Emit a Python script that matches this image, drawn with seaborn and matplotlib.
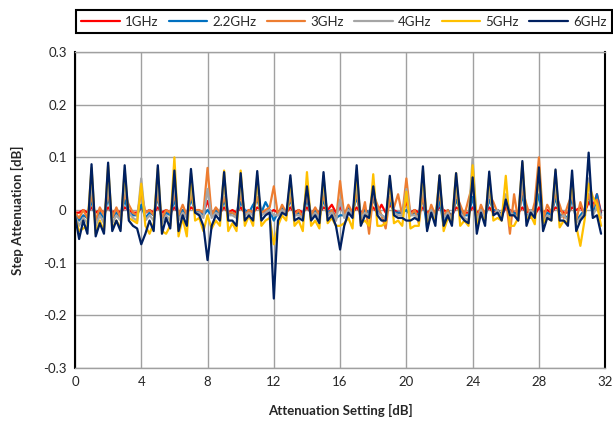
import numpy as np
import pandas as pd
import seaborn as sns
import matplotlib
matplotlib.use("Agg")
import matplotlib.pyplot as plt

# attenuation setting 0 .. 31.75 dB in 0.25 dB steps
setting = np.arange(128) * 0.25

# step attenuation error [dB], one row of 4 values per 1 dB
ghz1 = [
    -0.005, -0.005, 0.000, -0.005,  0.005, -0.005, 0.000, -0.005,
    0.005, -0.005, 0.000, -0.005,  0.005, 0.000, -0.005, -0.005,
    0.005, -0.005, 0.000, -0.005,  0.005, -0.005, 0.000, -0.005,
    0.005, -0.005, 0.000, -0.005,  0.005, 0.000, -0.005, -0.005,
    0.017, -0.005, 0.000, -0.005,  0.005, -0.005, 0.000, -0.005,
    0.005, -0.005, 0.000, -0.005,  0.005, 0.000, -0.005, -0.005,
    0.000, -0.005, 0.000, -0.005,  0.005, -0.005, 0.000, -0.005,
    0.005, -0.005, 0.000, -0.005,  0.005, 0.000, 0.010, -0.005,
    0.005, -0.005, 0.000, -0.005,  0.005, -0.005, 0.000, -0.005,
    0.005, -0.005, 0.010, -0.005,  0.010, 0.000, -0.005, -0.005,
    0.015, -0.005, 0.000, -0.005,  0.005, -0.005, 0.000, -0.005,
    0.005, 0.000, -0.005, -0.010,  0.005, 0.000, -0.005, -0.005,
    0.005, -0.005, 0.000, -0.005,  0.005, -0.005, 0.000, -0.010,
    0.005, 0.000, -0.005, -0.005,  0.005, -0.005, 0.000, -0.010,
    0.005, -0.005, 0.000, -0.005,  0.005, 0.000, -0.005, -0.005,
    0.005, 0.000, 0.005, -0.005,  0.015, 0.005, 0.030, -0.005,
]
ghz2_2 = [
    -0.005, -0.020, -0.010, -0.015,  0.020, -0.020, -0.005, -0.015,
    0.025, -0.015, -0.005, -0.015,  0.020, -0.005, -0.010, -0.010,
    0.010, -0.015, -0.005, -0.010,  0.025, -0.020, -0.005, -0.010,
    0.020, -0.015, 0.000, -0.010,  0.020, 0.000, -0.005, -0.010,
    0.000, -0.010, 0.000, -0.010,  0.020, -0.010, -0.005, -0.010,
    0.015, 0.000, -0.005, 0.010,  0.020, -0.005, 0.015, 0.000,
    -0.020, -0.005, 0.005, -0.005,  0.020, -0.010, -0.005, -0.010,
    0.020, -0.010, 0.000, -0.015,  0.020, -0.005, 0.000, -0.015,
    -0.010, -0.010, 0.005, -0.005,  0.025, -0.010, 0.000, -0.005,
    0.020, 0.000, -0.010, -0.015,  0.020, -0.005, -0.005, -0.005,
    0.000, -0.010, -0.005, -0.010,  0.025, -0.035, 0.000, -0.015,
    0.020, -0.030, 0.000, -0.015,  0.020, 0.000, -0.010, -0.010,
    0.025, -0.020, 0.005, -0.015,  0.020, 0.000, 0.000, -0.010,
    0.015, -0.005, -0.005, -0.010,  0.030, -0.015, 0.000, -0.005,
    0.030, -0.020, -0.005, -0.010,  0.025, -0.010, -0.010, -0.015,
    0.025, -0.020, -0.010, 0.000,  0.030, -0.010, 0.030, -0.010,
]
ghz3 = [
    -0.005, -0.015, 0.000, -0.015,  0.030, -0.020, 0.005, -0.010,
    0.035, -0.015, 0.005, -0.015,  0.030, 0.010, -0.005, -0.010,
    0.035, -0.005, 0.000, -0.010,  0.030, -0.015, 0.000, -0.005,
    0.030, -0.010, 0.010, -0.010,  0.030, 0.000, 0.000, -0.005,
    0.080, -0.010, 0.005, -0.005,  0.025, -0.005, -0.005, -0.010,
    0.030, -0.010, 0.000, -0.005,  0.025, -0.005, 0.000, 0.005,
    0.045, -0.010, 0.010, -0.005,  0.025, -0.010, 0.000, -0.015,
    0.030, -0.010, 0.005, -0.010,  0.030, -0.010, 0.000, -0.020,
    0.055, -0.010, 0.010, -0.005,  0.035, -0.020, 0.015, -0.045,
    0.030, 0.010, -0.010, -0.035,  0.025, 0.005, 0.030, -0.010,
    0.060, -0.010, 0.000, -0.025,  0.030, -0.020, 0.010, -0.010,
    0.030, -0.010, 0.000, -0.020,  0.030, 0.010, -0.010, 0.020,
    0.050, -0.020, 0.010, -0.010,  0.030, 0.015, -0.005, -0.010,
    0.025, -0.045, 0.030, -0.020,  0.040, 0.010, -0.015, 0.015,
    0.100, -0.020, 0.010, -0.005,  0.030, 0.010, -0.015, 0.010,
    0.030, -0.020, 0.015, -0.010,  0.030, 0.005, 0.020, -0.015,
]
ghz4 = [
    -0.010, -0.030, -0.015, -0.025,  0.050, -0.030, -0.010, -0.025,
    0.055, -0.025, -0.010, -0.020,  0.050, -0.005, -0.015, -0.020,
    0.060, -0.020, -0.010, -0.020,  0.050, -0.025, -0.010, -0.020,
    0.050, -0.020, -0.005, -0.015,  0.045, -0.005, -0.005, -0.015,
    0.040, -0.015, -0.005, -0.010,  0.045, -0.010, -0.010, -0.015,
    0.045, -0.010, -0.005, -0.010,  0.045, -0.010, -0.005, 0.000,
    -0.010, -0.010, 0.000, -0.005,  0.040, -0.010, -0.010, -0.015,
    0.045, -0.015, -0.005, -0.015,  0.045, -0.010, -0.005, -0.020,
    0.020, -0.015, 0.000, -0.010,  0.050, -0.015, -0.005, -0.010,
    0.040, -0.005, -0.010, -0.015,  0.045, -0.005, -0.010, -0.010,
    0.040, -0.010, -0.010, -0.015,  0.050, -0.020, 0.000, -0.015,
    0.045, -0.015, -0.005, -0.020,  0.045, -0.005, -0.015, -0.020,
    0.100, -0.025, 0.000, -0.020,  0.045, -0.010, 0.000, -0.015,
    0.030, -0.005, -0.010, -0.015,  0.060, -0.020, 0.000, -0.010,
    0.060, -0.025, -0.010, -0.015,  0.050, -0.015, -0.010, -0.020,
    0.050, -0.025, -0.015, -0.005,  0.060, -0.010, 0.005, -0.010,
]
ghz5 = [
    -0.015, -0.040, -0.035, -0.030,  0.080, -0.045, -0.020, -0.040,
    0.085, -0.035, -0.020, -0.035,  0.075, -0.015, -0.020, -0.025,
    0.050, -0.030, -0.045, -0.025,  0.080, -0.040, -0.045, -0.030,
    0.100, -0.050, -0.015, -0.050,  0.070, -0.020, -0.015, -0.040,
    -0.010, -0.035, -0.020, -0.030,  0.075, -0.040, -0.025, -0.040,
    0.075, -0.030, -0.010, -0.030,  0.065, -0.030, -0.020, -0.015,
    -0.065, -0.030, -0.010, -0.020,  0.060, -0.030, -0.020, -0.040,
    0.072, -0.030, -0.020, -0.035,  0.065, -0.025, -0.015, -0.030,
    -0.030, -0.025, -0.015, -0.035,  0.075, -0.025, -0.020, -0.030,
    0.068, -0.030, -0.030, -0.025,  0.060, -0.025, -0.020, -0.030,
    0.035, -0.035, -0.030, -0.030,  0.075, -0.030, -0.010, -0.020,
    0.065, -0.040, -0.015, -0.025,  0.070, -0.030, -0.020, -0.030,
    0.085, -0.030, -0.010, -0.020,  0.065, -0.020, -0.015, -0.020,
    0.065, -0.030, -0.030, -0.015,  0.090, -0.020, -0.010, -0.027,
    0.080, -0.025, -0.015, -0.020,  0.075, -0.033, -0.020, -0.025,
    0.060, -0.030, -0.068, -0.020,  0.050, 0.025, 0.010, -0.030,
]
ghz6 = [
    -0.010, -0.055, -0.020, -0.045,  0.087, -0.050, -0.025, -0.045,
    0.090, -0.040, -0.020, -0.040,  0.085, -0.020, -0.030, -0.035,
    -0.065, -0.045, -0.020, -0.040,  0.085, -0.045, -0.015, -0.035,
    0.075, -0.040, -0.010, -0.030,  0.078, -0.005, -0.010, -0.030,
    -0.095, -0.030, -0.010, -0.020,  0.072, -0.020, -0.020, -0.030,
    0.070, -0.020, -0.010, -0.020,  0.074, -0.020, -0.010, -0.005,
    -0.168, -0.020, -0.005, -0.010,  0.066, -0.020, -0.015, -0.020,
    0.045, -0.020, -0.010, -0.025,  0.072, -0.020, -0.010, -0.030,
    -0.075, -0.030, -0.005, -0.015,  0.085, -0.030, -0.010, -0.015,
    0.045, -0.010, -0.020, -0.020,  0.065, -0.010, -0.015, -0.015,
    -0.020, -0.020, -0.015, -0.020,  0.083, -0.040, -0.005, -0.030,
    0.066, -0.030, -0.010, -0.030,  0.070, -0.010, -0.020, -0.025,
    0.062, -0.045, -0.005, -0.030,  0.073, -0.010, -0.005, -0.020,
    0.020, -0.010, -0.010, -0.020,  0.093, -0.030, -0.005, -0.015,
    0.081, -0.040, -0.015, -0.020,  0.077, -0.020, -0.020, -0.030,
    0.075, -0.040, -0.020, -0.010,  0.109, -0.015, -0.010, -0.045,
]

labels = ["1GHz", "2.2GHz", "3GHz", "4GHz", "5GHz", "6GHz"]
colors = ["#FF0000", "#0070C0", "#ED7D31", "#A5A5A5", "#FFC000", "#002060"]
widths = [1.2, 1.2, 1.2, 1.2, 1.2, 1.6]
series = [ghz1, ghz2_2, ghz3, ghz4, ghz5, ghz6]

sns.set_style("white")
plt.rcParams["font.family"] = ["Lato", "DejaVu Sans"]

fig = plt.figure(figsize=(6.13, 4.25), dpi=100)
ax = fig.add_axes([0.1223, 0.134, 0.865, 0.7436])

for lab, col, lw, vals in zip(labels, colors, widths, series):
    df = pd.DataFrame({"setting": setting, "step": vals})
    sns.lineplot(data=df, x="setting", y="step", color=col, linewidth=lw,
                 label=lab, ax=ax, legend=False)

ax.set_xlim(0, 32)
ax.set_ylim(-0.3, 0.3)
ax.set_xticks(np.arange(0, 33, 4))
yt = [-0.3, -0.2, -0.1, 0, 0.1, 0.2, 0.3]
ax.set_yticks(yt)
ax.set_yticklabels(["-0.3", "-0.2", "-0.1", "0", "0.1", "0.2", "0.3"])
ax.tick_params(length=0, labelsize=9.5, pad=6)
ax.grid(True, color="#A0A0A0", linewidth=1)
ax.set_axisbelow(True)
for s in ["top", "bottom"]:
    ax.spines[s].set_color("#A0A0A0")
    ax.spines[s].set_linewidth(1)
for s in ["left", "right"]:
    ax.spines[s].set_color("black")
    ax.spines[s].set_linewidth(1.5)

ax.set_xlabel("Attenuation Setting [dB]", fontsize=9.5, fontweight="bold", labelpad=11)
ax.set_ylabel("Step Attenuation [dB]", fontsize=9.5, fontweight="bold", labelpad=14)

handles, labs = ax.get_legend_handles_labels()
for h in handles:
    h.set_linewidth(1.6)
leg = fig.legend(handles, labs, loc="center", ncol=6, mode="expand",
                 bbox_to_anchor=(0.124, 0.9106, 0.874, 0.0776),
                 fontsize=9.5, handlelength=2.9, handletextpad=0.4,
                 fancybox=False, framealpha=1, borderaxespad=0)
leg.get_frame().set_edgecolor("black")
leg.get_frame().set_linewidth(1.5)

fig.savefig("out.png", dpi=100)
